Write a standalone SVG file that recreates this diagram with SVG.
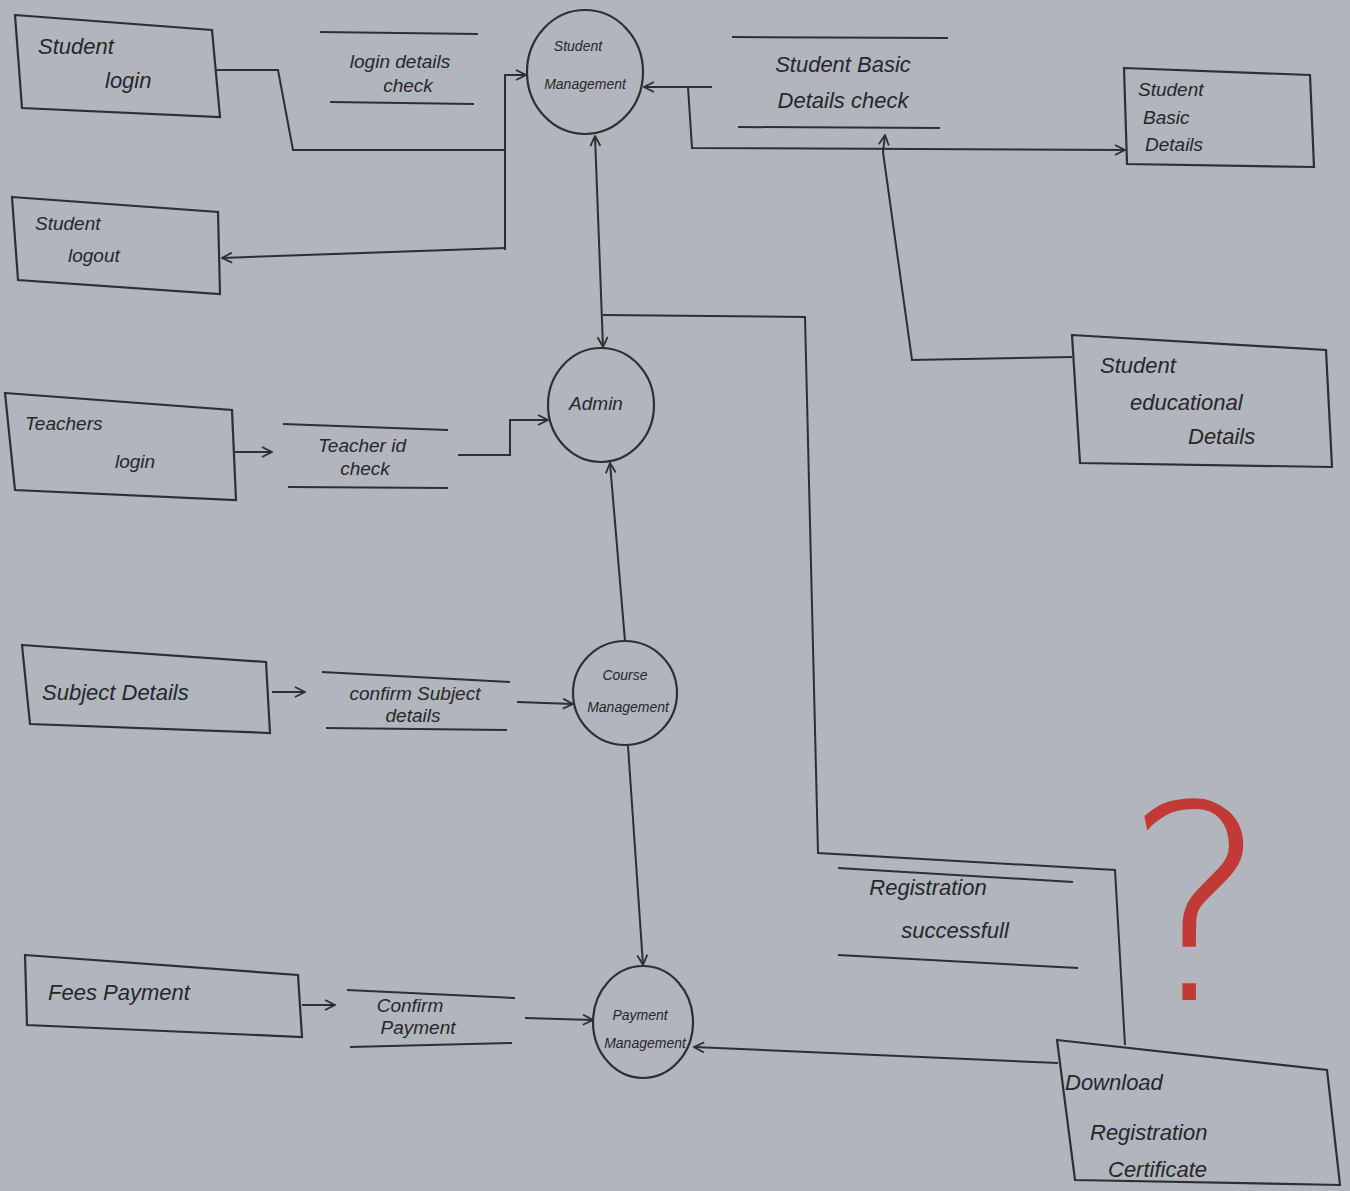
<svg xmlns="http://www.w3.org/2000/svg" width="1350" height="1191" viewBox="0 0 1350 1191">
<defs>
<marker id="arr" viewBox="0 0 12 12" refX="11" refY="6" markerWidth="12" markerHeight="12" markerUnits="userSpaceOnUse" orient="auto">
<path d="M1,1 L11,6 L1,11" fill="none" stroke="#2e2f33" stroke-width="1.8"/>
</marker>
<marker id="arrS" viewBox="0 0 12 12" refX="1" refY="6" markerWidth="12" markerHeight="12" markerUnits="userSpaceOnUse" orient="auto">
<path d="M11,1 L1,6 L11,11" fill="none" stroke="#2e2f33" stroke-width="1.8"/>
</marker>
<style>
.bg{fill:#b1b5bc}
.box{fill:none;stroke:#2e2f33;stroke-width:2.2}
.ds{stroke:#2e2f33;stroke-width:2;fill:none}
.ln{fill:none;stroke:#2e2f33;stroke-width:2}
.t{font-family:"Liberation Sans",Arial,sans-serif;font-style:italic;fill:#26272b}
.l{font-size:22px}
.m{font-size:19px}
.s{font-size:14px}
.q{font-family:"DejaVu Sans","Liberation Sans",sans-serif;font-weight:200;font-size:272px;fill:#c23a35}
</style>
</defs>
<rect class="bg" x="0" y="0" width="1350" height="1191"/>

<g id="student-login">
<polygon class="box" points="15,15 212,30 220,117 22,108"/>
<text class="t l" x="38" y="54">Student</text>
<text class="t l" x="105" y="88">login</text>
</g>
<g id="student-logout">
<polygon class="box" points="12,197 218,212 220,294 18,280"/>
<text class="t m" x="35" y="230">Student</text>
<text class="t m" x="68" y="262">logout</text>
</g>
<g id="login-details-check">
<line class="ds" x1="320" y1="32" x2="478" y2="34"/>
<line class="ds" x1="330" y1="102" x2="474" y2="104"/>
<text class="t m" x="400" y="68" text-anchor="middle">login details</text>
<text class="t m" x="408" y="92" text-anchor="middle">check</text>
</g>
<g id="student-management">
<ellipse class="box" cx="585" cy="72" rx="58" ry="62"/>
<text class="t s" x="578" y="51" text-anchor="middle">Student</text>
<text class="t s" x="585" y="89" text-anchor="middle">Management</text>
</g>
<g id="student-basic-details-check">
<line class="ds" x1="732" y1="37" x2="948" y2="38"/>
<line class="ds" x1="738" y1="127" x2="940" y2="128"/>
<text class="t l" x="843" y="72" text-anchor="middle">Student Basic</text>
<text class="t l" x="843" y="108" text-anchor="middle">Details check</text>
</g>
<g id="student-basic-details">
<polygon class="box" points="1124,68 1310,75 1314,167 1127,164"/>
<text class="t m" x="1138" y="96">Student</text>
<text class="t m" x="1143" y="124">Basic</text>
<text class="t m" x="1145" y="151">Details</text>
</g>
<g id="student-educational-details">
<polygon class="box" points="1072,335 1326,350 1332,467 1080,463"/>
<text class="t l" x="1100" y="373">Student</text>
<text class="t l" x="1130" y="410">educational</text>
<text class="t l" x="1188" y="444">Details</text>
</g>
<g id="admin">
<ellipse class="box" cx="601" cy="405" rx="53" ry="57"/>
<text class="t m" x="596" y="410" text-anchor="middle">Admin</text>
</g>
<g id="teachers-login">
<polygon class="box" points="5,393 232,410 236,500 15,490"/>
<text class="t m" x="25" y="430">Teachers</text>
<text class="t m" x="115" y="468">login</text>
</g>
<g id="teacher-id-check">
<line class="ds" x1="283" y1="424" x2="448" y2="430"/>
<line class="ds" x1="288" y1="487" x2="448" y2="488"/>
<text class="t m" x="362" y="452" text-anchor="middle">Teacher id</text>
<text class="t m" x="365" y="475" text-anchor="middle">check</text>
</g>
<g id="course-management">
<ellipse class="box" cx="625" cy="693" rx="52" ry="52"/>
<text class="t s" x="625" y="680" text-anchor="middle">Course</text>
<text class="t s" x="628" y="712" text-anchor="middle">Management</text>
</g>
<g id="subject-details">
<polygon class="box" points="22,645 266,662 270,733 30,724"/>
<text class="t l" x="42" y="700">Subject Details</text>
</g>
<g id="confirm-subject-details">
<line class="ds" x1="322" y1="672" x2="510" y2="682"/>
<line class="ds" x1="326" y1="728" x2="507" y2="730"/>
<text class="t m" x="415" y="700" text-anchor="middle">confirm Subject</text>
<text class="t m" x="413" y="722" text-anchor="middle">details</text>
</g>
<g id="payment-management">
<ellipse class="box" cx="643" cy="1022" rx="50" ry="56"/>
<text class="t s" x="640" y="1020" text-anchor="middle">Payment</text>
<text class="t s" x="645" y="1048" text-anchor="middle">Management</text>
</g>
<g id="fees-payment">
<polygon class="box" points="25,955 298,975 302,1037 27,1025"/>
<text class="t l" x="48" y="1000">Fees Payment</text>
</g>
<g id="confirm-payment">
<line class="ds" x1="347" y1="990" x2="515" y2="998"/>
<line class="ds" x1="350" y1="1047" x2="512" y2="1043"/>
<text class="t m" x="410" y="1012" text-anchor="middle">Confirm</text>
<text class="t m" x="418" y="1034" text-anchor="middle">Payment</text>
</g>
<g id="registration-successfull">
<line class="ds" x1="838" y1="868" x2="1073" y2="882"/>
<line class="ds" x1="838" y1="955" x2="1078" y2="968"/>
<text class="t l" x="928" y="895" text-anchor="middle">Registration</text>
<text class="t l" x="955" y="938" text-anchor="middle">successfull</text>
</g>
<g id="download-registration-certificate">
<polygon class="box" points="1057,1040 1327,1070 1340,1185 1075,1180"/>
<text class="t l" x="1065" y="1090">Download</text>
<text class="t l" x="1090" y="1140">Registration</text>
<text class="t l" x="1108" y="1177">Certificate</text>
</g>
<g id="question-mark">
<text class="q" x="1196" y="1000" text-anchor="middle">?</text>
</g>

<g id="connectors">
<polyline class="ln" points="215,70 278,70 293,150 505,150"/>
<polyline class="ln" points="505,250 505,75 526,75" marker-end="url(#arr)"/>
<polyline class="ln" points="505,248 222,258" marker-end="url(#arr)"/>
<polyline class="ln" points="712,87 644,87" marker-end="url(#arr)"/>
<polyline class="ln" points="688,87 692,148 1125,150" marker-end="url(#arr)"/>
<polyline class="ln" points="883,152 885,135" marker-end="url(#arr)"/>
<polyline class="ln" points="883,152 912,360 1072,357"/>
<line class="ln" x1="595" y1="136" x2="603" y2="347" marker-start="url(#arrS)" marker-end="url(#arr)"/>
<polyline class="ln" points="603,315 805,317 818,853 1115,870 1125,1045"/>
<line class="ln" x1="235" y1="452" x2="272" y2="452" marker-end="url(#arr)"/>
<polyline class="ln" points="458,455 510,455 510,420 548,420" marker-end="url(#arr)"/>
<line class="ln" x1="625" y1="641" x2="610" y2="463" marker-end="url(#arr)"/>
<line class="ln" x1="272" y1="692" x2="305" y2="692" marker-end="url(#arr)"/>
<line class="ln" x1="517" y1="702" x2="573" y2="704" marker-end="url(#arr)"/>
<line class="ln" x1="628" y1="746" x2="643" y2="965" marker-end="url(#arr)"/>
<line class="ln" x1="302" y1="1005" x2="335" y2="1005" marker-end="url(#arr)"/>
<line class="ln" x1="525" y1="1018" x2="593" y2="1020" marker-end="url(#arr)"/>
<line class="ln" x1="1058" y1="1063" x2="694" y2="1047" marker-end="url(#arr)"/>
</g>
</svg>
